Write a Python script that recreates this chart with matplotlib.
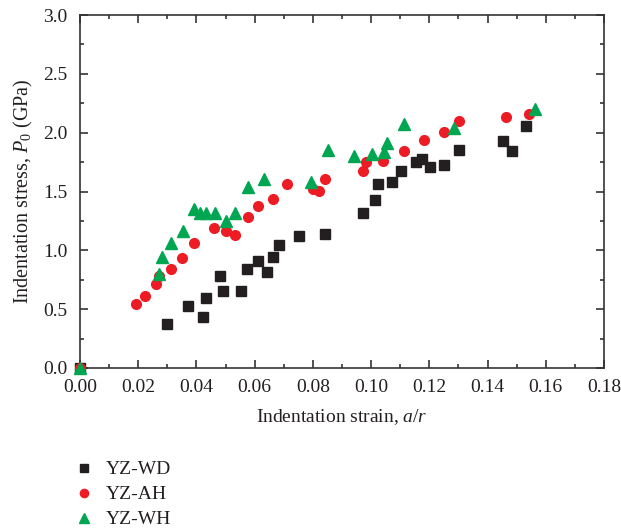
import matplotlib.pyplot as plt
from matplotlib.ticker import MultipleLocator

# YZ-WD (black squares)
wd_x = [0.0, 0.030, 0.0372, 0.0421, 0.0432, 0.0482, 0.0491, 0.0552, 0.0573, 0.0611,
        0.0642, 0.0662, 0.0683, 0.0752, 0.0842, 0.0972, 0.1012, 0.1023, 0.1072, 0.1103,
        0.1153, 0.1174, 0.1202, 0.1252, 0.1302, 0.1453, 0.1483, 0.1532]
wd_y = [0.0, 0.37, 0.53, 0.436, 0.595, 0.779, 0.657, 0.657, 0.844, 0.906,
        0.812, 0.94, 1.048, 1.124, 1.141, 1.314, 1.425, 1.56, 1.577, 1.674,
        1.753, 1.778, 1.708, 1.722, 1.849, 1.926, 1.847, 2.054]

# YZ-AH (red circles)
ah_x = [0.0, 0.0192, 0.0222, 0.0262, 0.0272, 0.0311, 0.0351, 0.0392, 0.0461, 0.0503,
        0.0531, 0.0578, 0.0613, 0.0662, 0.0712, 0.0802, 0.0822, 0.0843, 0.0972, 0.0982,
        0.1042, 0.1113, 0.1183, 0.1252, 0.1303, 0.1462, 0.1544]
ah_y = [0.0, 0.541, 0.609, 0.716, 0.78, 0.844, 0.937, 1.065, 1.186, 1.161,
        1.127, 1.283, 1.376, 1.439, 1.566, 1.517, 1.506, 1.606, 1.676, 1.753,
        1.756, 1.846, 1.935, 2.005, 2.099, 2.133, 2.155]

# YZ-WH (green triangles)
wh_x = [0.0, 0.0271, 0.0283, 0.0313, 0.0353, 0.0392, 0.0411, 0.0433, 0.0463, 0.0503,
        0.0531, 0.0578, 0.0632, 0.0792, 0.0852, 0.0942, 0.1003, 0.1043, 0.1053, 0.1113,
        0.1284, 0.1564]
wh_y = [0.0, 0.796, 0.94, 1.065, 1.161, 1.348, 1.314, 1.32, 1.32, 1.251,
        1.32, 1.54, 1.602, 1.58, 1.852, 1.804, 1.815, 1.835, 1.909, 2.073,
        2.042, 2.2]

plt.rcParams['font.family'] = ['Liberation Serif', 'DejaVu Serif']
plt.rcParams['mathtext.fontset'] = 'custom'
plt.rcParams['mathtext.it'] = 'Liberation Serif:italic'
plt.rcParams['mathtext.rm'] = 'Liberation Serif'

fig = plt.figure(figsize=(6.21, 5.31), dpi=100)
ax = fig.add_axes([80/621, 1 - 368/531, 524/621, 353/531])

ax.plot(wd_x, wd_y, 's', color='#231f20', ms=6.5, ls='none', label='YZ-WD', clip_on=False, zorder=3)
ax.plot(ah_x, ah_y, 'o', color='#ed1c24', ms=7, ls='none', label='YZ-AH', clip_on=False, zorder=4)
ax.plot(wh_x, wh_y, '^', color='#00a651', ms=8, ls='none', label='YZ-WH', clip_on=False, zorder=5)

ax.set_xlim(0, 0.18)
ax.set_ylim(0, 3.0)
ax.xaxis.set_major_locator(MultipleLocator(0.02))
ax.xaxis.set_minor_locator(MultipleLocator(0.01))
ax.yaxis.set_major_locator(MultipleLocator(0.5))
ax.yaxis.set_minor_locator(MultipleLocator(0.25))
ax.set_xticks(ax.get_xticks())
ax.set_xticklabels([f'{v:.2f}' for v in ax.get_xticks()])
ax.set_yticks(ax.get_yticks())
ax.set_yticklabels([f'{v:.1f}' for v in ax.get_yticks()])
ax.set_xlim(0, 0.18)
ax.set_ylim(0, 3.0)

ax.tick_params(which='both', direction='in', top=True, right=True,
               labelsize=14, colors='#333333', width=1.2)
ax.tick_params(which='major', length=6)
ax.tick_params(which='minor', length=3)
ax.tick_params(axis='y', pad=9)
ax.tick_params(axis='x', pad=8)
for s in ax.spines.values():
    s.set_linewidth(1.2)
    s.set_color('#333333')
ax.tick_params(labelcolor='#231f20')

ax.set_xlabel('Indentation strain, $a/r$', fontsize=14, labelpad=8, color='#231f20')
ax.set_ylabel('Indentation stress, $P_0$ (GPa)', fontsize=14.5, labelpad=6, color='#231f20')

leg = fig.legend(loc='upper left', bbox_to_anchor=(65/621, 1 - 453/531),
                 frameon=False, fontsize=14, handletextpad=0.5, labelspacing=0.38,
                 handlelength=1.2, borderaxespad=0, markerscale=0.85)
for t in leg.get_texts():
    t.set_color('#231f20')

fig.savefig('out.png', dpi=100)
